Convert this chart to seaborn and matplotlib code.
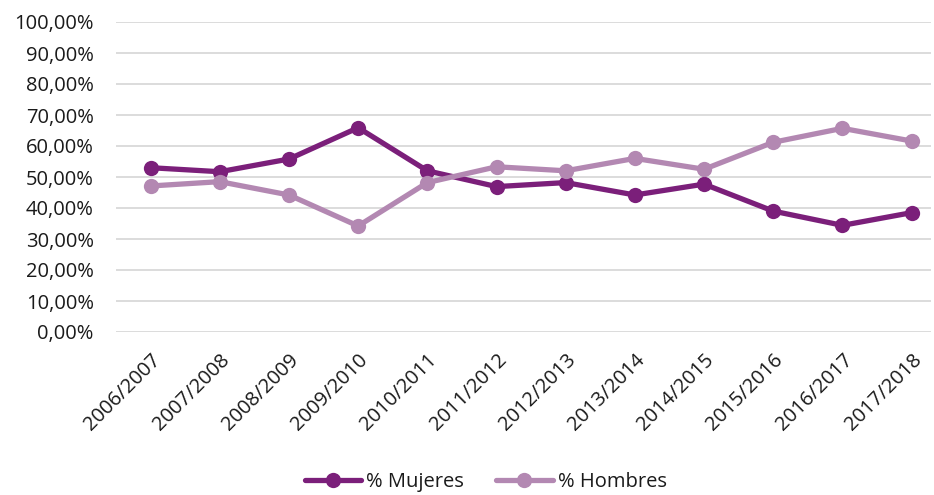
import pandas as pd
import matplotlib.pyplot as plt
import seaborn as sns

sns.set_style("white")
plt.rcParams["font.family"] = ["Open Sans", "DejaVu Sans"]
plt.rcParams["text.color"] = "#1a1a1a"
plt.rcParams["xtick.color"] = "#1a1a1a"
plt.rcParams["ytick.color"] = "#1a1a1a"

cursos = ["2006/2007", "2007/2008", "2008/2009", "2009/2010", "2010/2011", "2011/2012",
          "2012/2013", "2013/2014", "2014/2015", "2015/2016", "2016/2017", "2017/2018"]
mujeres = [53.0, 51.7, 55.8, 65.9, 52.0, 46.9, 48.2, 44.2, 47.7, 39.0, 34.4, 38.5]
hombres = [47.1, 48.5, 44.2, 34.2, 48.2, 53.3, 52.0, 56.0, 52.5, 61.2, 65.7, 61.6]

df = pd.DataFrame({
    "Curso": cursos * 2,
    "Porcentaje": mujeres + hombres,
    "Serie": ["% Mujeres"] * len(cursos) + ["% Hombres"] * len(cursos),
})

colores = {"% Mujeres": "#7b1f7a", "% Hombres": "#b388b2"}

fig = plt.figure(figsize=(9.34, 4.95), dpi=100)
ax = fig.add_axes([116 / 934, 163 / 495, (931 - 116) / 934, 310 / 495])

sns.lineplot(data=df, x="Curso", y="Porcentaje", hue="Serie", palette=colores,
             marker="o", markersize=11, markeredgewidth=0, linewidth=3.8,
             sort=False, ax=ax, legend=False)

ax.set_ylim(0, 100)
ax.set_xlim(-0.5, 11.28)
ax.set_yticks(range(0, 101, 10))
ax.set_yticklabels([f"{v},00%" for v in range(0, 101, 10)], fontsize=14.5)
ax.set_xticks(range(len(cursos)))
ax.set_xticklabels(cursos, rotation=45, ha="right", rotation_mode="anchor", fontsize=14.5)
ax.tick_params(axis="y", length=0, pad=16)
ax.tick_params(axis="x", length=0, pad=13)
ax.grid(axis="y", color="#d9d9d9", linewidth=1.3)
ax.set_axisbelow(True)
sns.despine(ax=ax, left=True, bottom=True)
ax.set_xlabel("")
ax.set_ylabel("")

# leyenda abajo, centrada
handles = [plt.Line2D([], [], color=colores[k], marker="o", markersize=11,
                      markeredgewidth=0, linewidth=3.8) for k in colores]
fig.legend(handles, list(colores), loc="center", bbox_to_anchor=(0.52, 0.026),
           ncol=2, frameon=False, fontsize=14.5, handlelength=2.8,
           columnspacing=1.6, handletextpad=0.25)

plt.savefig("out.png", dpi=100)
